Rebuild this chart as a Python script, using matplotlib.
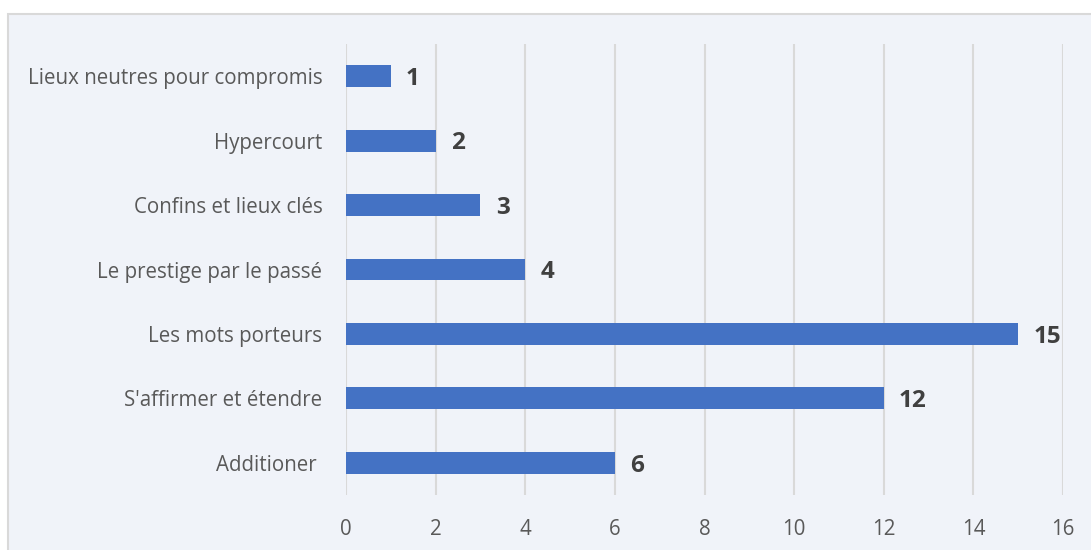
import matplotlib.pyplot as plt
from matplotlib.patches import Rectangle

# data (top to bottom as shown)
categories = ["Lieux neutres pour compromis", "Hypercourt", "Confins et lieux clés",
              "Le prestige par le passé", "Les mots porteurs", "S'affirmer et étendre",
              "Additioner "]
values = [1, 2, 3, 4, 15, 12, 6]
xticks = [0, 2, 4, 6, 8, 10, 12, 14, 16]

plt.rcParams['font.family'] = ['Open Sans', 'DejaVu Sans']

bg = '#F0F3F9'
fig = plt.figure(figsize=(10.91, 5.5), dpi=100, facecolor='white')
# chart area with thin border
fig.patches.append(Rectangle((8 / 1091, -0.05), 1.1, 1 - 14 / 550 + 0.05,
                             transform=fig.transFigure, facecolor=bg,
                             edgecolor='#D9D9D9', linewidth=1.5, zorder=-1))

ax = fig.add_axes([346 / 1091, 0.1, (1063 - 346) / 1091, 0.82])
ax.set_facecolor(bg)

pos = list(range(len(categories)))[::-1]
ax.barh(pos, values, height=0.34, color='#4472C4', zorder=3)
for p, v in zip(pos, values):
    ax.annotate(str(v), (v, p), xytext=(11, -2), textcoords='offset points',
                ha='left', va='center', fontsize=17.5, fontweight='bold', color='#404040')

ax.set_xlim(0, 16)
ax.set_ylim(-0.5, len(categories) - 0.5)
ax.set_xticks(xticks)
ax.set_yticks(pos)
ax.set_yticklabels(categories)
ax.tick_params(axis='both', length=0, colors='#595959', labelsize=14.8)
ax.tick_params(axis='y', pad=17)
ax.tick_params(axis='x', pad=17)
ax.grid(axis='x', color='#D9D9D9', linewidth=1.5, zorder=0)
for s in ax.spines.values():
    s.set_visible(False)

fig.savefig('out.png', dpi=100, facecolor='white')
